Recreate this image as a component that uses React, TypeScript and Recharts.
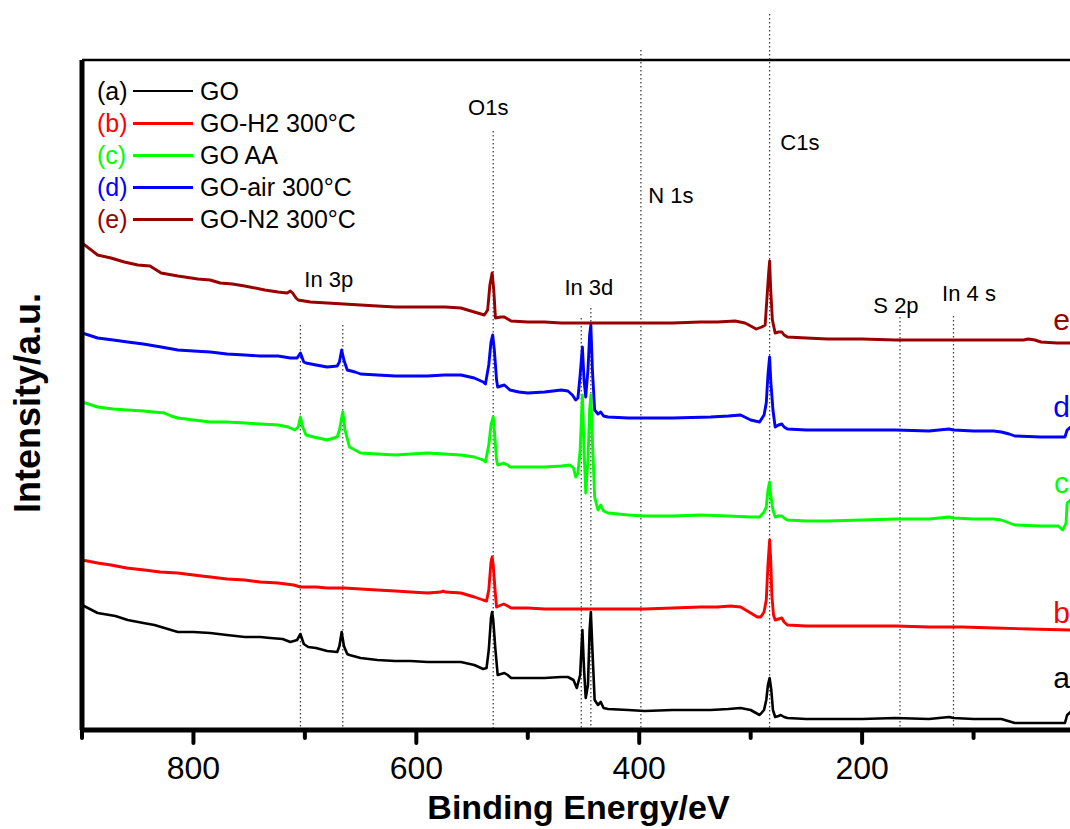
import React from 'react';
import { LineChart, Line, XAxis, YAxis, ReferenceLine, ReferenceDot, Legend, Label } from 'recharts';

const FONT = '"Liberation Sans", Arial, Helvetica, sans-serif';

// Binding energy (eV) / intensity (a.u., offset stacked)
const GO: number[][] = [[900,125],[886,117],[870,114],[859,110],[845,107],[835,105],[829,103],[820,100],[814,98],[800,98],[785,97],[770,95],[754,93],[740,93],[731,92],[720,91],[713,88],[707,90],[704,96],[701,86],[697,83],[690,82],[680,79],[671,78],[669,84],[667,98],[665,84],[662,76],[660,75],[650,72],[635,70],[619,69],[605,69],[590,68],[575,68],[560,68],[548,65],[540,61],[537,62],[535,80],[533,112],[532,118],[531,110],[529,80],[527,55],[524,56],[521,57],[518,55],[515,52],[500,52],[485,52],[470,53],[464,53],[459,50],[456,42],[453,55],[451,100],[449.5,60],[448,32],[446,45],[444.5,100],[443.4,118],[442,80],[440,30],[437,25],[434.5,28],[432,22],[428,21],[410,20],[395,19],[370,20],[345,20],[336,20],[320,21],[309,22],[300,20],[292,15],[288,20],[286,30],[284.5,45],[283,52],[281.5,40],[280,20],[278,13],[275,14],[273,15],[270,13],[267,12],[250,11],[231,11],[200,11],[170,12],[140,11],[122,13],[118,12],[100,11],[75,11],[63,7],[40,7],[18,7],[16,15],[13,18]];
const GO_H2: number[][] = [[900,170],[886,167],[874,165],[860,162],[844,160],[830,158],[814,157],[800,155],[785,153],[770,151],[754,150],[740,148],[724,147],[710,145],[704,143],[690,143],[680,142],[665,142],[650,141],[635,140],[619,139],[605,138],[590,137],[578,138],[576,139],[574,138],[560,137],[548,133],[540,130],[537,129],[535,140],[533,168],[532,173],[531,165],[529,135],[528,123],[524,125],[521.5,126],[518,124],[515,122],[500,122],[485,121],[470,121],[455,121],[440,121],[420,121],[395,121],[370,122],[345,123],[330,123],[318,124],[309,123],[300,117],[294,113],[291,113],[288,118],[286,130],[284.5,165],[283,190],[282,170],[281,135],[279.5,115],[278,110],[275,111],[272,112],[270,108],[267,105],[250,104],[231,104],[200,104],[170,104],[140,103],[110,103],[81,102],[50,101],[13,100]];
const GO_AA: number[][] = [[900,328],[886,323],[872,321],[859,320],[845,319],[836,318],[826,317],[820,314],[814,312],[800,310],[785,308],[770,308],[754,307],[740,306],[724,305],[715,303],[709,300],[706,303],[704,313],[702,303],[699,295],[692,293],[680,290],[671,293],[669,300],[666,318],[664,300],[660,283],[655,280],[650,277],[635,276],[619,275],[605,276],[590,277],[575,276],[560,275],[548,273],[540,270],[538,268],[535,285],[533,305],[531,313],[530,300],[528,270],[527,265],[524,266],[522,267],[518,265],[516,263],[500,263],[485,263],[470,264],[462,265],[459,262],[457,253],[455,257],[453,280],[451,335],[449.5,280],[448,237],[446,270],[444.5,320],[443.4,335],[442,290],[440,233],[437,220],[434.5,225],[432,219],[428,217],[410,215],[395,214],[370,214],[345,215],[320,214],[300,213],[292,213],[288,218],[286,223],[284.5,240],[283,248],[282,235],[280,220],[278,213],[275,214],[272,214],[270,212],[267,210],[250,209],[231,209],[200,210],[170,211],[140,211],[122,213],[118,212],[100,211],[82,211],[75,210],[68,207],[63,205],[40,204],[24,204],[20,200],[17,207],[16,227],[13,230]];
const GO_AIR: number[][] = [[900,397],[886,392],[872,390],[859,388],[845,386],[829,383],[814,380],[800,379],[785,378],[770,376],[754,375],[740,374],[724,374],[713,372],[707,372],[704,377],[701,368],[699,367],[690,365],[680,363],[671,364],[669,368],[667,380],[665,370],[662,360],[655,358],[650,356],[635,355],[619,354],[605,354],[590,354],[575,355],[560,355],[548,352],[540,348],[538,346],[535,365],[533,388],[531.5,395],[530,380],[528,350],[527,343],[524,344],[521,345],[518,342],[516,340],[508,338],[500,337],[485,338],[470,340],[464,339],[460,335],[457,330],[455,332],[453,355],[451,383],[449.5,350],[448,333],[446,360],[444.5,395],[443.4,405],[442,360],[440,320],[437,316],[434.5,318],[432,314],[428,313],[410,312],[395,312],[370,312],[336,313],[320,314],[309,315],[300,310],[292,308],[288,315],[286,327],[284.5,355],[283,373],[282,350],[280,320],[278,303],[275,305],[272,306],[270,303],[267,301],[250,300],[231,300],[200,300],[170,300],[140,299],[122,301],[118,300],[100,299],[82,299],[75,298],[68,296],[63,294],[40,293],[18,293],[16,300],[13,303]];
const GO_N2: number[][] = [[900,487],[886,475],[874,472],[862,468],[850,465],[839,464],[829,457],[814,454],[796,451],[785,450],[776,447],[765,446],[754,444],[736,440],[724,438],[716,437],[713,439],[711,437],[708,432],[706,430],[695,428],[680,427],[665,426],[650,425],[635,424],[619,423],[605,423],[590,423],[574,423],[560,422],[548,418],[539,415],[536,420],[534,445],[532,457],[530.5,440],[529,412],[524,413],[521,413],[518,411],[515,409],[500,408],[485,408],[470,407],[455,407],[430,407],[395,407],[370,407],[345,408],[330,408],[314,409],[305,407],[300,404],[295,401],[290,403],[287,405],[285.5,430],[284,455],[283,469],[282,440],[280.5,410],[278,397],[275,398],[272,398],[270,395],[267,393],[250,392],[231,391],[200,391],[170,390],[141,390],[110,390],[75,390],[55,390],[51,391],[45,390],[39.5,388],[25,387],[13,387]];

const MAJOR_TICKS = [800, 600, 400, 200];
const MINOR_TICKS = [900, 700, 500, 300, 100];

const SERIES = [
  { key: 'a', name: 'GO', color: '#000000', data: GO },
  { key: 'b', name: 'GO-H2 300°C', color: '#FF0000', data: GO_H2 },
  { key: 'c', name: 'GO AA', color: '#00FF00', data: GO_AA },
  { key: 'd', name: 'GO-air 300°C', color: '#0000FF', data: GO_AIR },
  { key: 'e', name: 'GO-N2 300°C', color: '#990000', data: GO_N2 },
];

// curve letters at the right end: [energy, intensity]
const CURVE_LABEL_POS: Record<string, number[]> = {
  a: [21, 52.6], b: [21, 117.6], c: [21, 247.6], d: [21, 323.6], e: [21, 410.6],
};

// peak markers: energy, top of dotted line (intensity units)
const PEAK_LINES: number[][] = [[704, 405], [666, 405], [531, 599], [452, 412], [443.4, 422], [398.5, 680], [283, 716], [166, 413], [118, 414]];

// peak names: text, energy, intensity
const PEAK_NAMES: [string, number, number][] = [
  ['O1s', 535.5, 622.8], ['N 1s', 371.6, 534.8], ['C1s', 255.8, 587.8], ['In 3p', 678.6, 450.8],
  ['In 3d', 445.2, 442.8], ['S 2p', 169.6, 424.8], ['In 4 s', 104.1, 436.8],
];

const Y_MAX = 670;

const XTick = (props: any) => {
  const { x, y, payload } = props;
  const major = MAJOR_TICKS.includes(payload.value);
  return (
    <g>
      <line x1={x} x2={x} y1={y} y2={y + (major ? 13 : 8)} stroke="#000" strokeWidth={4} strokeLinecap="round" />
      {major && (
        <text x={x} y={y + 49} textAnchor="middle" fontSize={32} fontFamily={FONT} fill="#000">
          {payload.value}
        </text>
      )}
    </g>
  );
};

const YTitle = (props: any) => {
  const vb = props.viewBox || { x: 0, y: 60, width: 82, height: 670 };
  const cx = vb.x + 40;
  const cy = vb.y + vb.height / 2 + 8;
  return (
    <text
      x={cx}
      y={cy}
      transform={`rotate(-90, ${cx}, ${cy})`}
      textAnchor="middle"
      fontSize={36}
      fontWeight={700}
      fontFamily={FONT}
      fill="#000"
    >
      Intensity/a.u.
    </text>
  );
};

const LegendContent = () => (
  <div style={{ fontFamily: FONT, fontSize: 25, lineHeight: '32px', color: '#000' }}>
    {SERIES.map((s) => (
      <div key={s.key} style={{ display: 'flex', alignItems: 'center', height: 32, whiteSpace: 'nowrap' }}>
        <span style={{ color: s.color, width: 36 }}>({s.key})</span>
        <span style={{ display: 'inline-block', width: 60, borderTop: `${s.key === 'a' ? 2 : 3}px solid ${s.color}`, marginRight: 7 }} />
        <span>{s.name}</span>
      </div>
    ))}
  </div>
);

export default function App() {
  return (
    <div style={{ position: 'absolute', left: 0, top: 0, width: 1070, height: 829, overflow: 'hidden', background: '#fff' }}>
      <LineChart width={1100} height={829} margin={{ top: 60, right: 15, bottom: 0, left: 0 }}>
        <XAxis
          type="number"
          dataKey="e"
          domain={[0, 900]}
          allowDataOverflow
          reversed
          ticks={[...MINOR_TICKS, ...MAJOR_TICKS].sort((p, q) => q - p)}
          interval={0}
          tickSize={0}
          tickMargin={0}
          tickLine={false}
          tick={<XTick />}
          height={99}
          axisLine={{ stroke: '#000', strokeWidth: 5 }}
          label={{ value: 'Binding Energy/eV', position: 'insideBottom', offset: 10, dx: -5, fontSize: 34, fontWeight: 700, fill: '#000', fontFamily: FONT }}
        />
        <YAxis
          type="number"
          domain={[0, Y_MAX]}
          allowDataOverflow
          width={82}
          tick={false}
          tickLine={false}
          axisLine={{ stroke: '#000', strokeWidth: 5 }}
        >
          <Label content={<YTitle />} />
        </YAxis>
        <ReferenceLine y={Y_MAX} stroke="#000" strokeWidth={2.5} ifOverflow="visible" />
        <ReferenceLine x={0} stroke="#000" strokeWidth={2.5} ifOverflow="visible" />
        {PEAK_LINES.map(([e, top], i) => (
          <ReferenceLine
            key={'pl' + i}
            segment={[{ x: e, y: top }, { x: e, y: 0 }]}
            stroke="#444"
            strokeWidth={1.3}
            strokeDasharray="1.5 2.5"
            ifOverflow="visible"
          />
        ))}
        {SERIES.map((s) => (
          <Line
            key={s.key}
            data={s.data.map(([e, v]) => ({ e, v }))}
            dataKey="v"
            name={s.name}
            stroke={s.color}
            strokeWidth={s.key === 'a' ? 2.6 : 2.9}
            strokeLinejoin="round"
            dot={false}
            activeDot={false}
            type="linear"
            isAnimationActive={false}
          />
        ))}
        {PEAK_NAMES.map(([t, e, v]) => (
          <ReferenceDot
            key={t}
            x={e}
            y={v}
            r={0}
            fill="none"
            stroke="none"
            ifOverflow="visible"
            label={{ value: t, position: 'center', fontSize: 22, fill: '#000', fontFamily: FONT }}
          />
        ))}
        {SERIES.map((s) => (
          <ReferenceDot
            key={'lab' + s.key}
            x={CURVE_LABEL_POS[s.key][0]}
            y={CURVE_LABEL_POS[s.key][1]}
            r={0}
            fill="none"
            stroke="none"
            ifOverflow="visible"
            label={{ value: s.key, position: 'center', fontSize: 30, fill: s.color, fontFamily: FONT }}
          />
        ))}
        <Legend
          layout="vertical"
          align="center"
          verticalAlign="middle"
          content={<LegendContent />}
          wrapperStyle={{ left: 97, top: 75, width: 400, height: 160 }}
        />
      </LineChart>
    </div>
  );
}
